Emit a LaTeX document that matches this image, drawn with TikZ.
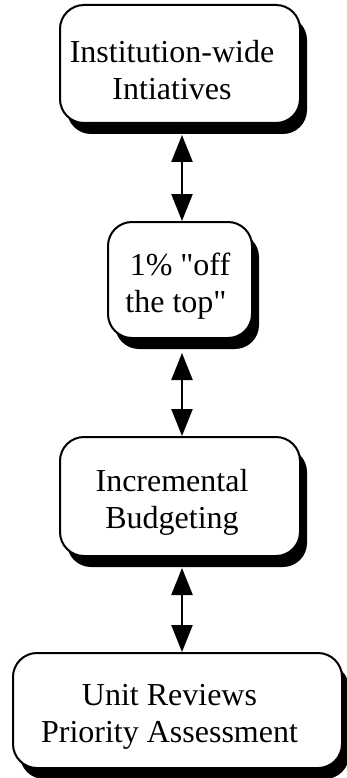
\documentclass[tikz,border=0pt]{standalone}
\usepackage{fontspec}
\setmainfont{Liberation Serif}
\usetikzlibrary{arrows.meta,shadows}
\tikzset{
  block/.style={draw,line width=2pt,fill=white,rounded corners=24pt,align=center,
    font=\fontsize{32}{37}\selectfont,
    drop shadow={shadow xshift=7pt,shadow yshift=-11pt,fill=black,opacity=1}},
  link/.style={line width=2.5pt,{Triangle[width=21pt,length=27pt]}-{Triangle[width=21pt,length=27pt]}}
}
\newcommand{\tsp}{\hspace*{16pt}}
\newcommand{\tall}{\rule{0pt}{34pt}}
\begin{document}
\begin{tikzpicture}[x=1pt,y=-1pt]
	\useasboundingbox (0,0) rectangle (347,778);

	\node[block,minimum width=240pt,minimum height=118pt] (inst) at (180,64) {\tall Institution-wide\tsp\\Intiatives\tsp};
	\node[block,minimum width=144pt,minimum height=116pt] (top) at (180,280) {\tall 1\% \textquotedbl off\\the top\textquotedbl\hspace*{8pt}};
	\node[block,minimum width=240pt,minimum height=119pt] (incr) at (180,496.5) {\tall Incremental\tsp\\Budgeting\tsp};
	\node[block,minimum width=329pt,minimum height=115pt] (unit) at (177.5,710.5) {\tall Unit Reviews\tsp\\Priority Assessment\tsp};

	\draw[link] ([shift={(2,11)}]inst.south) -- ([xshift=2pt]top.north);
	\draw[link] ([shift={(2,14)}]top.south) -- ([xshift=2pt]incr.north);
	\draw[link] ([shift={(2,11)}]incr.south) -- ([xshift=4.5pt]unit.north);
\end{tikzpicture}
\end{document}
